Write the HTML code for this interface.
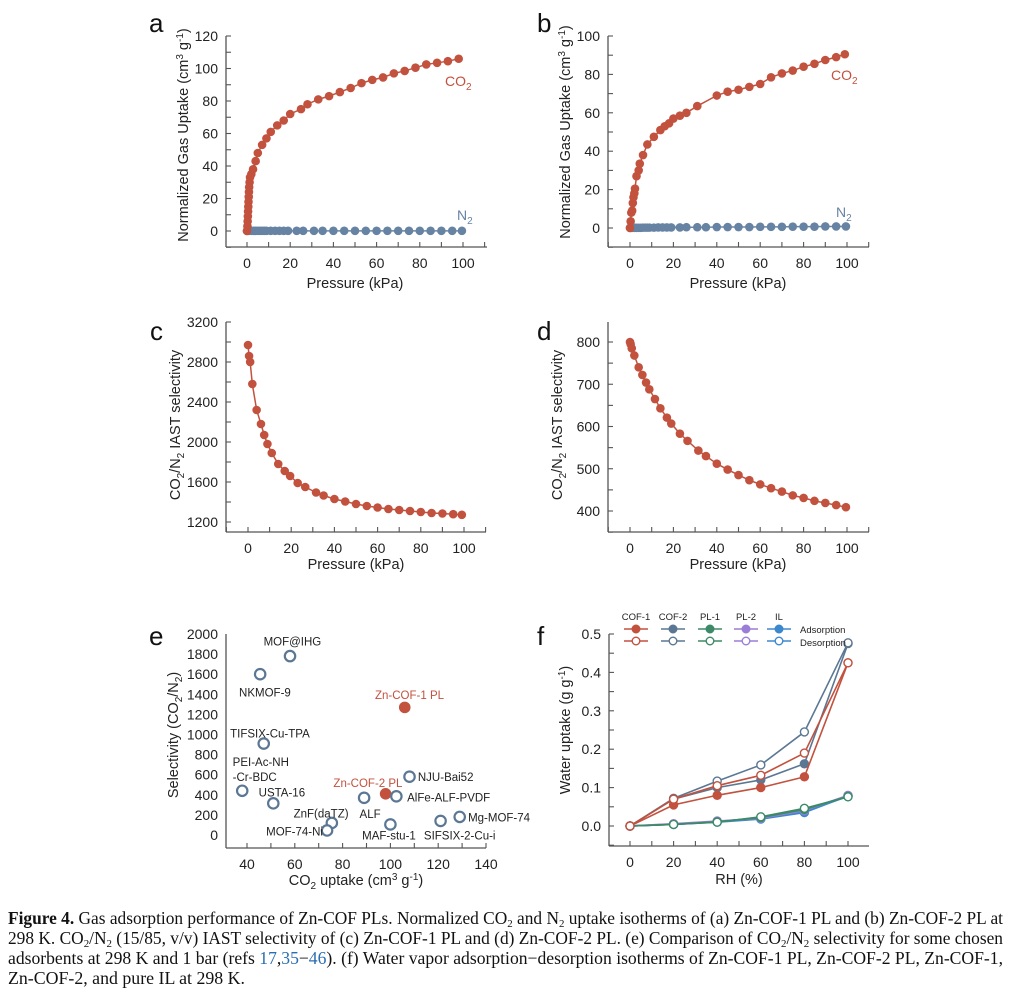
<!DOCTYPE html>
<html><head><meta charset="utf-8">
<style>
html,body{margin:0;padding:0;background:#fff;}
svg{display:block;font-family:"Liberation Sans",Arial,sans-serif;}
.cap{font-family:"Liberation Serif","Times New Roman",serif;font-size:17.5px;fill:#111;}
</style></head>
<body>
<svg id="fig" width="1026" height="996" viewBox="0 0 1026 996" xmlns="http://www.w3.org/2000/svg">
<g id="plots"></g>
<g>
<text class="cap" x="8" y="924" textLength="995" lengthAdjust="spacingAndGlyphs"><tspan font-weight="bold">Figure 4.</tspan> Gas adsorption performance of Zn-COF PLs. Normalized CO<tspan font-size="11" dy="3">2</tspan><tspan dy="-3"> and N</tspan><tspan font-size="11" dy="3">2</tspan><tspan dy="-3"> uptake isotherms of (a) Zn-COF-1 PL and (b) Zn-COF-2 PL at</tspan></text>
<text class="cap" x="8" y="944" textLength="995" lengthAdjust="spacingAndGlyphs">298 K. CO<tspan font-size="11" dy="3">2</tspan><tspan dy="-3">/N</tspan><tspan font-size="11" dy="3">2</tspan><tspan dy="-3"> (15/85, v/v) IAST selectivity of (c) Zn-COF-1 PL and (d) Zn-COF-2 PL. (e) Comparison of CO</tspan><tspan font-size="11" dy="3">2</tspan><tspan dy="-3">/N</tspan><tspan font-size="11" dy="3">2</tspan><tspan dy="-3"> selectivity for some chosen</tspan></text>
<text class="cap" x="8" y="964" textLength="995" lengthAdjust="spacingAndGlyphs">adsorbents at 298 K and 1 bar (refs <tspan fill="#2a6db0">17</tspan>,<tspan fill="#2a6db0">35</tspan>−<tspan fill="#2a6db0">46</tspan>). (f) Water vapor adsorption−desorption isotherms of Zn-COF-1 PL, Zn-COF-2 PL, Zn-COF-1,</text>
<text class="cap" x="8" y="984" textLength="237" lengthAdjust="spacingAndGlyphs">Zn-COF-2, and pure IL at 298 K.</text>
</g>
</svg>
<script>
// ---------- data ----------
const aCO2x=[0,0.2,0.3,0.4,0.5,0.6,0.7,0.8,0.9,1,1.2,1.4,2,2.8,4,5,7,9,11,14,17,20,25,28,33,38,43,48,53,58,63,68,73,78,83,88,93,98];
const aCO2y=[0,3,6,9,12,15,18,21,24,27,30,33,35,38,43,48,53,57,61,65,68,72,75,78,81,83,85.5,88,91,93,94.5,97,98.5,100.5,102.5,103.5,104.5,106];
const aN2x=[0,0.5,1,2,3,4,5,6,7,8,9,11,13,15,17,19,23,26,31,35,40,45,50,55,60,65,70,75,80,85,90,95,99.5];
const aN2y=[0.1,0.1,0.1,0.1,0.1,0.1,0.1,0.1,0.1,0.1,0.1,0.1,0.1,0.1,0.1,0.1,0.1,0.1,0.1,0.1,0.1,0.1,0.1,0.1,0.1,0.1,0.1,0.1,0.1,0.1,0.1,0.1,0.1];
const bCO2x=[0,0.3,0.6,1,1.3,1.6,2,2.3,3,4,4.5,6,8,11,14,16,18,20,23,26,31,40,45,50,55,60,65,70,75,80,85,90,95,99];
const bCO2y=[0,3.5,8,9,13,16,18,20.5,27,30,33.5,38,43.5,47.5,51,53,54.5,57,58.5,60,63.5,69,71,72,73.5,75,78.5,80.5,82,84,85.5,87.5,89,90.5];
const bN2x=[0,0.5,1,2,3,4,5,6,7,8,9,11,13,15,17,19,23,26,31,35,40,45,50,55,60,65,70,75,80,85,90,95,99.5];
const bN2y=[0.1,0.1,0.1,0.1,0.1,0.1,0.1,0.2,0.2,0.2,0.2,0.2,0.3,0.3,0.3,0.3,0.3,0.4,0.4,0.4,0.5,0.5,0.5,0.5,0.6,0.6,0.6,0.7,0.7,0.7,0.8,0.8,0.8];
const cX=[0,0.5,1,2,4,6,7.5,9,11,14,17,19.5,23,26.5,31.5,35,40,45,50,55,60,65,70,75,80,85,90,95,99];
const cY=[2970,2860,2800,2580,2320,2180,2070,1980,1890,1780,1710,1660,1590,1550,1495,1465,1430,1405,1380,1360,1345,1330,1320,1310,1300,1290,1285,1278,1272];
const dX=[0,0.3,0.8,2,4,5.7,7.4,8.9,11.5,14,17,19,23,26.5,31.5,35,40,45,50,55,60,65,70,75,80,85,90,95,99.5];
const dY=[800,795,785,768,740,722,704,688,665,643,621,607,583,566,543,530,512,498,485,473,463,454,446,437,431,424,419,414,409];
const eNames=["MOF@IHG","NKMOF-9","TIFSIX-Cu-TPA","PEI-Ac-NH-Cr-BDC","USTA-16","ZnF(daTZ)","MOF-74-Ni","ALF","MAF-stu-1","Zn-COF-2 PL","AlFe-ALF-PVDF","NJU-Bai52","Zn-COF-1 PL","SIFSIX-2-Cu-i","Mg-MOF-74"];
const eUptake=[58,45.5,47,38,51,75.5,73.5,89,100,98,102.5,108,106,121,129];
const eSelect=[1780,1600,910,440,315,120,45,370,105,410,385,580,1270,140,180];
const eOurs=[0,0,0,0,0,0,0,0,0,1,0,0,1,0,0];
const eLabelX=[59,47.5,49.6,34,54.6,71,71.8,91.5,99.4,90.6,107,111.5,108,129,132.5];
const eLabelY=[1930,1423,1015,730,428,220,40,215,0,520,380,580,1400,0,180];
const eAnchor=["middle","middle","middle","start","middle","middle","end","middle","middle","middle","start","start","middle","middle","start"];
const fRH=[0,20,40,60,80,100];
const fSeries=["COF-1","COF-2","PL-1","PL-2","IL"];
const fAds=[[0,0.055,0.08,0.1,0.128,0.425],[0,0.07,0.1,0.12,0.162,0.475],[0,0.004,0.011,0.022,0.043,0.077],[0,0.006,0.013,0.02,0.04,0.08],[0,0.004,0.01,0.018,0.035,0.078]];
const fDes=[[0,0.07,0.105,0.132,0.19,0.425],[0,0.072,0.117,0.159,0.245,0.477],[0,0.004,0.01,0.024,0.046,0.076],[0,0.005,0.012,0.021,0.042,0.079],[0,0.005,0.012,0.02,0.038,0.077]];
const fColors=["#c2513e","#5b7793","#3d8a68","#9b7fd6","#3b88cf"];

// ---------- helpers ----------
const NS="http://www.w3.org/2000/svg";
const root=document.getElementById('plots');
function mk(tag,attrs,parent){const e=document.createElementNS(NS,tag);for(const k in attrs)e.setAttribute(k,attrs[k]);(parent||root).appendChild(e);return e;}
const RED="#c2513e",N2C="#6783a3",AX="#555";
function lin(d0,d1,p0,p1){return v=>p0+(v-d0)*(p1-p0)/(d1-d0);}

function axes(g,o){
  mk('line',{x1:o.left,y1:o.top,x2:o.left,y2:o.bottom,stroke:AX,'stroke-width':1.3},g);
  mk('line',{x1:o.left,y1:o.bottom,x2:o.right,y2:o.bottom,stroke:AX,'stroke-width':1.3},g);
  o.xminor.forEach(v=>{const x=o.xs(v);if(x>=o.left-0.5&&x<=o.right+0.5)mk('line',{x1:x,y1:o.bottom,x2:x,y2:o.bottom-5,stroke:AX,'stroke-width':1.1},g);});
  o.yminor.forEach(v=>{const y=o.ys(v);if(y>=o.top-0.5&&y<=o.bottom+0.5)mk('line',{x1:o.left,y1:y,x2:o.left+5,y2:y,stroke:AX,'stroke-width':1.1},g);});
  o.xticks.forEach(v=>{const t=mk('text',{x:o.xs(v),y:o.bottom+21,'text-anchor':'middle','font-size':14,fill:'#222'},g);t.textContent=o.xfmt?o.xfmt(v):v;
    
    });
  o.yticks.forEach(v=>{const t=mk('text',{x:o.left-8,y:o.ys(v)+5,'text-anchor':'end','font-size':14,fill:'#222'},g);t.textContent=o.yfmt?o.yfmt(v):v;
    
    });
}
function series(g,xs,ys,X,Y,color,r,name){
  const s=mk('g',{},g);
  
  
  mk('polyline',{points:X.map((v,i)=>xs(v)+','+ys(Y[i])).join(' '),fill:'none',stroke:color,'stroke-width':1.5},s);
  X.forEach((v,i)=>{const c=mk('circle',{cx:xs(v),cy:ys(Y[i]),r:r,fill:color},s);
    
    });
}
function letter(ch,x,y){const t=mk('text',{x:x,y:y,'font-size':26,fill:'#111'});t.textContent=ch;
  
  }
function ytitle(g,x,y,html){const t=mk('text',{transform:`translate(${x},${y}) rotate(-90)`,'text-anchor':'middle','font-size':14.5,fill:'#222'},g);t.innerHTML=html;
  
  }
function xtitle(g,x,y,html){const t=mk('text',{x:x,y:y,'text-anchor':'middle','font-size':14.5,fill:'#222'},g);t.innerHTML=html;
  
  }
function rng(a,b,s){const r=[];for(let v=a;v<=b+1e-9;v+=s)r.push(+v.toFixed(6));return r;}
const SUB=(s)=>`<tspan font-size="10" dy="4">${s}</tspan><tspan dy="-4">`;
const UPT='Normalized Gas Uptake (cm<tspan font-size="10" dy="-5">3</tspan><tspan dy="5"> g</tspan><tspan font-size="10" dy="-5">-1</tspan><tspan dy="5">)</tspan>';

// ---------- panel a ----------
{const g=mk('g',{});
 const xs=lin(0,100,247,463),ys=lin(0,120,231,36);
 axes(g,{left:226,right:487,top:36,bottom:247,xs,ys,xticks:rng(0,100,20),yticks:rng(0,120,20),xminor:rng(-10,110,10),yminor:rng(-10,120,10)});
 series(g,xs,ys,aN2x,aN2y,N2C,4.3,'n2-series');
 series(g,xs,ys,aCO2x,aCO2y,RED,4.3,'co2-series');
 const l1=mk('text',{x:445,y:86,'font-size':14,fill:RED},g);l1.innerHTML='CO'+SUB('2')+'</tspan>';
 
 const l2=mk('text',{x:457,y:220,'font-size':14,fill:N2C},g);l2.innerHTML='N'+SUB('2')+'</tspan>';
 
 ytitle(g,188,135,UPT);xtitle(g,355,288,'Pressure (kPa)');letter('a',149,32);}
// ---------- panel b ----------
{const g=mk('g',{});
 const xs=lin(0,100,630,847),ys=lin(0,100,228,36);
 axes(g,{left:608,right:869,top:36,bottom:247,xs,ys,xticks:rng(0,100,20),yticks:rng(0,100,20),xminor:rng(-10,110,10),yminor:rng(-10,100,10)});
 series(g,xs,ys,bN2x,bN2y,N2C,4.3,'n2-series');
 series(g,xs,ys,bCO2x,bCO2y,RED,4.3,'co2-series');
 const l1=mk('text',{x:831,y:80,'font-size':14,fill:RED},g);l1.innerHTML='CO'+SUB('2')+'</tspan>';
 
 const l2=mk('text',{x:836,y:217,'font-size':14,fill:N2C},g);l2.innerHTML='N'+SUB('2')+'</tspan>';
 
 ytitle(g,570,132,UPT);xtitle(g,738,288,'Pressure (kPa)');letter('b',537,32);}
// ---------- panel c ----------
{const g=mk('g',{});
 const xs=lin(0,100,248,464),ys=lin(1200,3200,522,322);
 axes(g,{left:226,right:486,top:322,bottom:532,xs,ys,xticks:rng(0,100,20),yticks:rng(1200,3200,400),xminor:rng(-10,110,10),yminor:rng(1200,3200,200)});
 series(g,xs,ys,cX,cY,RED,4.3,'selectivity-series');
 ytitle(g,180,425,'CO'+SUB('2')+'/N</tspan>'+SUB('2')+' IAST selectivity</tspan>');xtitle(g,356,569,'Pressure (kPa)');letter('c',150,340);}
// ---------- panel d ----------
{const g=mk('g',{});
 const xs=lin(0,100,630,847),ys=lin(400,800,511,342);
 axes(g,{left:608,right:869,top:322,bottom:532,xs,ys,xticks:rng(0,100,20),yticks:rng(400,800,100),xminor:rng(-10,110,10),yminor:rng(350,850,50)});
 series(g,xs,ys,dX,dY,RED,4.3,'selectivity-series');
 ytitle(g,562,425,'CO'+SUB('2')+'/N</tspan>'+SUB('2')+' IAST selectivity</tspan>');xtitle(g,738,569,'Pressure (kPa)');letter('d',537,340);}
// ---------- panel e ----------
{const g=mk('g',{});
 const xs=lin(40,140,247,486),ys=lin(0,2000,835,634);
 axes(g,{left:226,right:486,top:634,bottom:848,xs,ys,xticks:rng(40,140,20),yticks:rng(0,2000,200),xminor:rng(40,140,10),yminor:[]});
 eNames.forEach((n,i)=>{
   const ours=eOurs[i]===1;
   const c=mk('circle',{cx:xs(eUptake[i]),cy:ys(eSelect[i]),r:ours?5.8:5.2,fill:ours?RED:'#fff',stroke:ours?RED:'#5b7793','stroke-width':ours?0:2.2},g);
   
   
   const t=mk('text',{x:xs(eLabelX[i]),y:ys(eLabelY[i])+4.5,'text-anchor':eAnchor[i],'font-size':11.5,fill:ours?RED:'#222'},g);
   if(n==="PEI-Ac-NH-Cr-BDC"){t.innerHTML=`PEI-Ac-NH<tspan x="${xs(eLabelX[i])}" dy="15">-Cr-BDC</tspan>`;}
   else t.textContent=n;
   
   
 });
 ytitle(g,178,735,'Selectivity (CO'+SUB('2')+'/N</tspan>'+SUB('2')+')</tspan>');
 xtitle(g,356,885,'CO'+SUB('2')+' uptake (cm</tspan><tspan font-size="10" dy="-5">3</tspan><tspan dy="5"> g</tspan><tspan font-size="10" dy="-5">-1</tspan><tspan dy="5">)</tspan>');
 letter('e',149,645);}
// ---------- panel f ----------
{const g=mk('g',{});
 const xs=lin(0,100,630,848),ys=lin(0,0.5,826,634);
 axes(g,{left:609,right:869,top:634,bottom:846,xs,ys,xticks:rng(0,100,20),yticks:rng(0,0.5,0.1),xminor:rng(-10,110,10),yminor:rng(-0.05,0.5,0.05),yfmt:v=>v.toFixed(1)});
 for(let k=fSeries.length-1;k>=0;k--){
   const col=fColors[k];
   [[fAds[k],true],[fDes[k],false]].forEach(([Y,filled])=>{
     const s=mk('g',{},g);
     
     
     mk('polyline',{points:fRH.map((v,i)=>xs(v)+','+ys(Y[i])).join(' '),fill:'none',stroke:col,'stroke-width':1.6},s);
     fRH.forEach((v,i)=>{const c=mk('circle',{cx:xs(v),cy:ys(Y[i]),r:4,fill:filled?col:'#fff',stroke:col,'stroke-width':1.4},s);
       
       });
   });
 }
 const lx=[636,673,710,746,779];
 fSeries.forEach((n,k)=>{
   const lg=mk('g',{},g);
   
   
   const t=mk('text',{x:lx[k],y:620,'text-anchor':'middle','font-size':9.5,fill:'#222'},lg);t.textContent=n;
   [[629,true],[641,false]].forEach(([yy,f])=>{
     mk('line',{x1:lx[k]-12,y1:yy,x2:lx[k]+12,y2:yy,stroke:fColors[k],'stroke-width':1.6},lg);
     mk('circle',{cx:lx[k],cy:yy,r:3.8,fill:f?fColors[k]:'#fff',stroke:fColors[k],'stroke-width':1.4},lg);
   });
 });
 const a=mk('text',{x:800,y:633,'font-size':9.5,fill:'#222'},g);a.textContent='Adsorption';
 
 const d=mk('text',{x:800,y:646,'font-size':9.5,fill:'#222'},g);d.textContent='Desorption';
 
 ytitle(g,570,730,'Water uptake (g g</tspan><tspan font-size="10" dy="-5">-1</tspan><tspan dy="5">)</tspan>');
 xtitle(g,739,884,'RH (%)');letter('f',537,645);}
</script>
</body></html>
